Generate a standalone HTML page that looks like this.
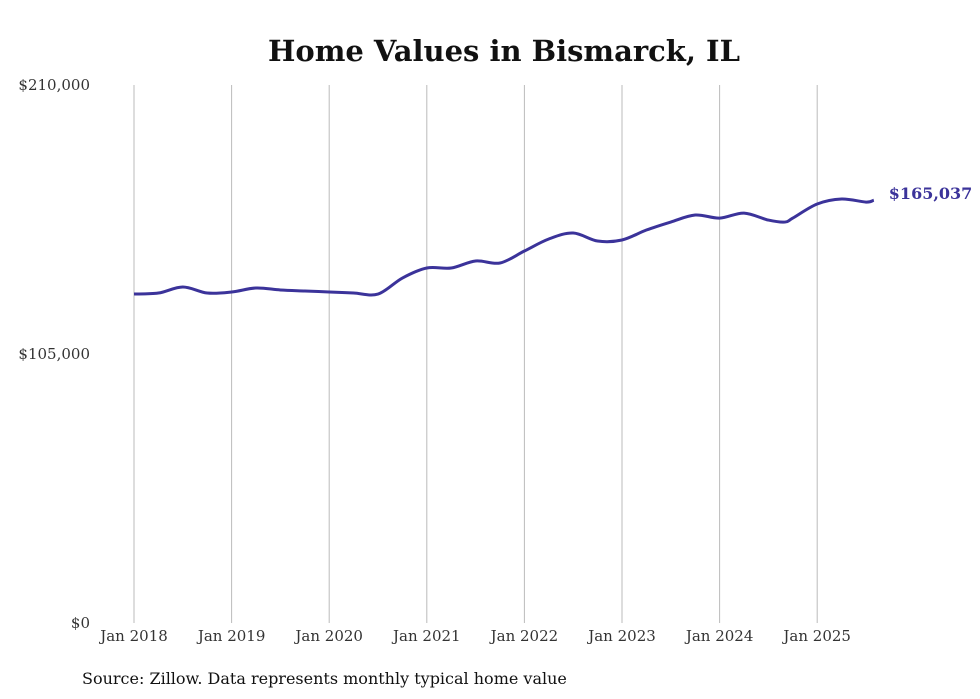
<!DOCTYPE html>
<html><head><meta charset="utf-8"><style>
html,body{margin:0;padding:0;background:#fff;width:980px;height:699px;overflow:hidden}
svg text{font-family:"DejaVu Serif","Liberation Serif",serif}
</style></head><body>
<svg id="chart" width="980" height="699" xmlns="http://www.w3.org/2000/svg">
<text x="504" y="61" text-anchor="middle" font-size="29" font-weight="bold" fill="#111" textLength="472" lengthAdjust="spacingAndGlyphs">Home Values in Bismarck, IL</text>
<g id="grid"></g><g id="yaxis"></g><g id="xaxis"></g>
<path id="line" fill="none" stroke="#3b339a" stroke-width="3" stroke-linejoin="round"/>
<text id="endlabel" font-size="16" font-weight="bold" fill="#3b339a"></text>
<text x="82" y="684" font-size="16" fill="#111">Source: Zillow. Data represents monthly typical home value</text>
</svg>
<script>
const dates=[2018,2018.25,2018.5,2018.75,2019,2019.25,2019.5,2019.75,2020,2020.25,2020.5,2020.75,2021,2021.25,2021.5,2021.75,2022,2022.25,2022.5,2022.75,2023,2023.25,2023.5,2023.75,2024,2024.25,2024.5,2024.67,2024.75,2025,2025.25,2025.5,2025.58];
const values=[128400,128800,131150,128800,129200,130760,130000,129590,129200,128800,128400,134660,138570,138570,141300,140520,145200,149890,152230,149100,149500,153400,156520,159250,158050,160000,157270,156500,158050,163550,165500,164300,165037];
const yTicks=[0,105000,210000];
const yTickLabels=["$0","$105,000","$210,000"];
const xTicks=[2018,2019,2020,2021,2022,2023,2024,2025];
const xTickLabels=["Jan 2018","Jan 2019","Jan 2020","Jan 2021","Jan 2022","Jan 2023","Jan 2024","Jan 2025"];
const lastLabel="$165,037";
const NS="http://www.w3.org/2000/svg";
const X=d=>134+(d-2018)*97.6;
const Y=v=>623-v/210000*538;
function mk(t,a,p){const e=document.createElementNS(NS,t);for(const k in a)e.setAttribute(k,a[k]);p.appendChild(e);return e;}
const grid=document.getElementById('grid'),ya=document.getElementById('yaxis'),xa=document.getElementById('xaxis');
xTicks.forEach((t,i)=>{
 const l=mk('line',{x1:X(t),x2:X(t),y1:85,y2:623,stroke:'#bbb','stroke-width':1},grid);
 
 
 const tx=mk('text',{x:X(t),y:641,'text-anchor':'middle','font-size':15,fill:'#333'},xa);
 tx.textContent=xTickLabels[i];
 
 
});
yTicks.forEach((t,i)=>{
 const tx=mk('text',{x:90,y:Y(t)+5,'text-anchor':'end','font-size':15,fill:'#333'},ya);
 tx.textContent=yTickLabels[i];
 
 
});
const pts=dates.map((d,i)=>[X(d),Y(values[i])]);
let p='M'+pts[0][0]+','+pts[0][1];
for(let i=0;i<pts.length-1;i++){
 const p0=pts[i-1]||pts[i],p1=pts[i],p2=pts[i+1],p3=pts[i+2]||p2;
 const c1=[p1[0]+(p2[0]-p0[0])/6,p1[1]+(p2[1]-p0[1])/6];
 const c2=[p2[0]-(p3[0]-p1[0])/6,p2[1]-(p3[1]-p1[1])/6];
 p+=` C${c1[0]},${c1[1]} ${c2[0]},${c2[1]} ${p2[0]},${p2[1]}`;
}
document.getElementById('line').setAttribute('d',p);
const last=pts[pts.length-1];
const el=document.getElementById('endlabel');
el.setAttribute('x',last[0]+15);el.setAttribute('y',last[1]-1);el.textContent=lastLabel;
</script>
</body></html>
